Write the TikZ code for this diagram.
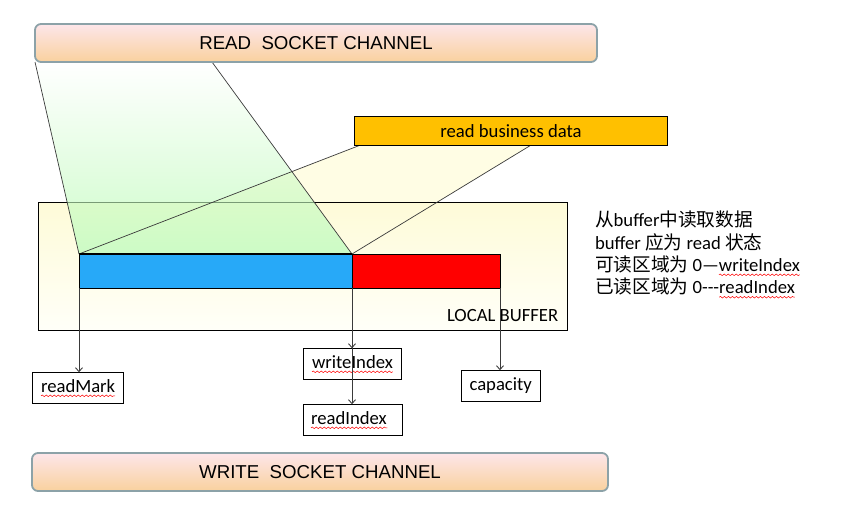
\documentclass[tikz,border=0pt]{standalone}
\usepackage{fontspec}
\setmainfont{Carlito}
\newfontfamily\arialf{Liberation Sans}
\newfontfamily\cjk{Noto Sans CJK SC}
\usetikzlibrary{arrows.meta,decorations.pathmorphing,calc,fadings}
\definecolor{chantop}{HTML}{FDE6EA}
\definecolor{chanbot}{HTML}{F9D19E}
\definecolor{chanborder}{HTML}{8CA2A8}
\definecolor{bizc}{HTML}{FFC000}
\definecolor{greenc}{HTML}{C4FBC0}
\definecolor{yellowc}{HTML}{FFFDE4}
\definecolor{lbtop}{HTML}{FEFBD8}
\definecolor{lbbot}{HTML}{FFFFF8}
\definecolor{bluec}{HTML}{27A9F8}
\definecolor{linec}{HTML}{3A3A3A}
\tikzfading[name=greenfade, top color=transparent!100, bottom color=transparent!15]
\pgfdeclarelayer{bg}
\pgfdeclarelayer{lb}
\pgfdeclarelayer{mid}
\pgfsetlayers{bg,lb,mid,main}
\begin{document}
\begin{tikzpicture}[x=1pt,y=-1pt,
  every node/.style={outer sep=0pt},
  font=\fontsize{18.67}{22.4}\selectfont,
  chan/.style={draw=chanborder, line width=1.8pt, rounded corners=6pt,
    top color=chantop, bottom color=chanbot, minimum height=38,
    font=\arialf\fontsize{18.67}{22}\selectfont, text height=13.4, text depth=0pt},
  lbl/.style={draw=black, line width=0.8pt, fill=white, text height=13, text depth=4,
    inner xsep=8.5, minimum height=31, anchor=north west},
  bar/.style={draw=black, line width=0.8pt, minimum height=34, anchor=north west, inner sep=0pt},
  note/.style={inner sep=0pt, anchor=base west},
  arr/.style={draw=linec, line width=0.9pt, -{Straight Barb[length=4pt,width=7pt]}},
  edge/.style={draw=linec, line width=0.7pt},
  squig/.style={draw=red, line width=0.5pt, decorate,
    decoration={snake, amplitude=0.8pt, segment length=4pt}}]
\useasboundingbox (0,0) rectangle (842,519);

% channels
\node[chan, minimum width=562] (readch) at (316,43) {READ\ \ SOCKET CHANNEL};
\node[chan, minimum width=576] (writech) at (320,472) {WRITE\ \ SOCKET CHANNEL};

% business data
\node[draw=black, line width=0.8pt, fill=bizc, minimum width=313.4, minimum height=29.7,
  anchor=north west, text height=12.9, text depth=0pt] (bizdata) at (354.3,116) {read business data};

% local buffer
\begin{pgfonlayer}{lb}
\node[draw=black, line width=0.8pt, top color=lbtop, bottom color=lbbot,
  minimum width=529.5, minimum height=127.7, anchor=north west] (localbuf) at (38,202.3) {};
\end{pgfonlayer}
\node[note] (lbtext) at (447,321) {LOCAL BUFFER};

% bars
\node[bar, fill=bluec, minimum width=273] (bluebar) at (79,254) {};
\node[bar, fill=red, minimum width=148] (redbar) at (bluebar.north east) {};
\draw[line width=1.8pt] (bluebar.north west) -- (bluebar.north east);

% helper coordinates
\coordinate (gtop) at ($(readch.south west)+(177,0)$);
\coordinate (ya) at ($(bizdata.south west)+(4.5,0)$);
\coordinate (yb) at ($(bizdata.south west)+(175.7,0)$);

\begin{pgfonlayer}{bg}
\fill[yellowc] (ya) -- (yb) -- (bluebar.north east) -- (bluebar.north west) -- cycle;
\end{pgfonlayer}
\begin{pgfonlayer}{mid}
\fill[greenc, path fading=greenfade]
  (readch.south west) -- (gtop) -- (bluebar.north east) -- (bluebar.north west) -- cycle;
\draw[edge] (readch.south west) -- (bluebar.north west);
\draw[edge] (gtop) -- (bluebar.north east);
\draw[edge] (ya) -- (bluebar.north west);
\draw[edge] (yb) -- (bluebar.north east);
\end{pgfonlayer}

% index boxes
\node[lbl] (readmark) at (32.5,372.3) {readMark};
\node[lbl, inner xsep=8.7] (writeidx) at (303.3,348.3) {writeIndex};
\node[lbl, inner xsep=7.7, text width=83.6, align=left] (readidx) at (303.3,404.3) {readIndex};
\node[lbl, inner xsep=8.2] (capacity) at (461.3,370.3) {capacity};

\draw[squig] ($(readmark.base west)+(8.5,3.5)$) -- ($(readmark.base east)+(-8.5,3.5)$);
\draw[squig] ($(writeidx.base west)+(8.7,3.5)$) -- ($(writeidx.base east)+(-8.7,3.5)$);
\draw[squig] ($(readidx.base west)+(7.7,3.5)$) -- ($(readidx.base west)+(84,3.5)$);

% arrows
\draw[arr] (bluebar.south west) -- (bluebar.south west |- readmark.north);
\draw[arr] (bluebar.south east) -- (bluebar.south east |- writeidx.north);
\draw[arr] (bluebar.south east) -- (bluebar.south east |- readidx.north);
\draw[arr] (redbar.south east) -- (redbar.south east |- capacity.north);

% notes
\node[note] (n1) at (595,226.5) {{\cjk 从}buffer{\cjk 中读取数据}};
\node[note] (n2) at (595,249) {buffer {\cjk 应为} read {\cjk 状态}};
\node[note] (n3) at (595,271.3) {{\cjk 可读区域为} 0—};
\node[note] (n3b) at (n3.base east) {writeIndex};
\node[note] (n4) at (595,293.7) {{\cjk 已读区域为} 0-\kern0pt-\kern0pt-};
\node[note] (n4b) at (n4.base east) {readIndex};
\draw[squig] ($(n3b.base west)+(0,3.5)$) -- ($(n3b.base east)+(0,3.5)$);
\draw[squig] ($(n4b.base west)+(0,3.5)$) -- ($(n4b.base east)+(0,3.5)$);
\end{tikzpicture}
\end{document}
